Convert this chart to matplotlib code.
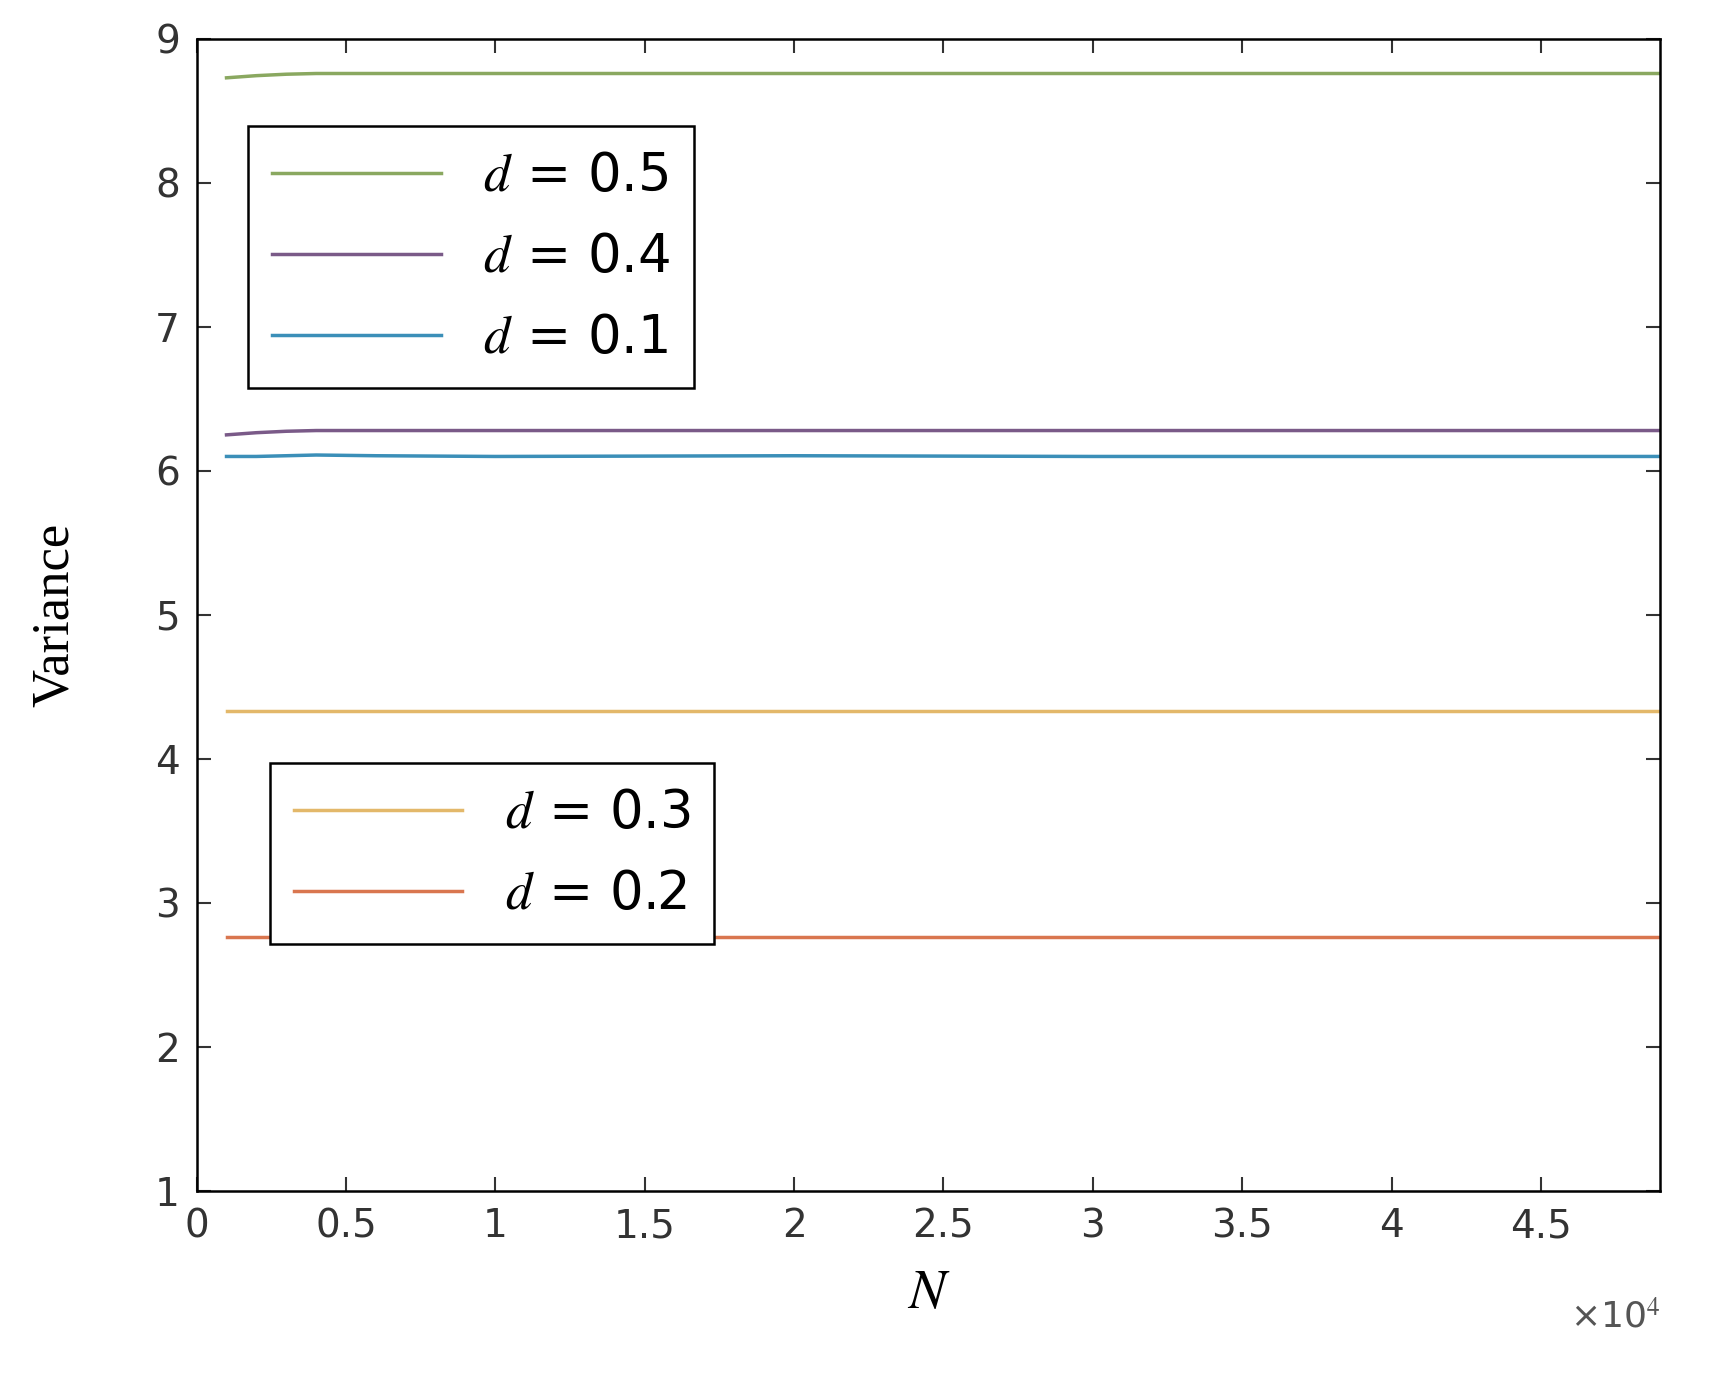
import numpy as np
import matplotlib
matplotlib.use("Agg")
import matplotlib.pyplot as plt

plt.rcParams["mathtext.fontset"] = "stix"

N = [1000, 2000, 3000, 4000, 6000, 10000, 20000, 30000, 40000, 49000]
var_05 = [8.73, 8.745, 8.755, 8.76, 8.76, 8.76, 8.76, 8.76, 8.76, 8.76]
var_04 = [6.25, 6.265, 6.275, 6.28, 6.28, 6.28, 6.28, 6.28, 6.28, 6.28]
var_01 = [6.10, 6.10, 6.105, 6.11, 6.105, 6.10, 6.105, 6.10, 6.10, 6.10]
var_03 = [4.33] * 10
var_02 = [2.76] * 10

c05 = "#8aa860"
c04 = "#7a5a88"
c01 = "#3b8fb8"
c03 = "#e3b86a"
c02 = "#d9764f"

fig = plt.figure(figsize=(17.10, 13.91), dpi=100)
ax = fig.add_axes([0.115, 0.144, 0.856, 0.828])
l5, = ax.plot(N, var_05, color=c05, lw=2.5)
l4, = ax.plot(N, var_04, color=c04, lw=2.5)
l1, = ax.plot(N, var_01, color=c01, lw=2.5)
l3, = ax.plot(N, var_03, color=c03, lw=2.5)
l2, = ax.plot(N, var_02, color=c02, lw=2.5)

ax.set_xlim(0, 49000)
ax.set_ylim(1, 9)
ax.set_xticks(np.arange(0, 49000, 5000))
ax.set_xticklabels(["0", "0.5", "1", "1.5", "2", "2.5", "3", "3.5", "4", "4.5"])
ax.tick_params(direction="in", length=10, width=1.5, labelsize=28, colors="#333333",
               top=True, right=True, pad=12)
for sp in ax.spines.values():
    sp.set_linewidth(1.8)
ax.text(1.0, -0.095, "×10$^4$", transform=ax.transAxes, ha="right", va="top",
        fontsize=26, color="#555555", family="DejaVu Sans")
ax.set_xlabel(r"$N$", fontsize=40, labelpad=15)
ax.set_ylabel("Variance", fontsize=38, family="Liberation Serif", labelpad=55)

kw = dict(fontsize=38, frameon=True, fancybox=False, edgecolor="black", framealpha=1,
          handlelength=3.2, handletextpad=0.8, labelspacing=0.55, borderpad=0.45,
          borderaxespad=0)
leg1 = ax.legend([l5, l4, l1], [r"$d$ = 0.5", r"$d$ = 0.4", r"$d$ = 0.1"],
                 loc="upper left", bbox_to_anchor=(0.035, 0.924), **kw)
leg1.get_frame().set_linewidth(1.8)
ax.add_artist(leg1)
leg2 = ax.legend([l3, l2], [r"$d$ = 0.3", r"$d$ = 0.2"],
                 loc="upper left", bbox_to_anchor=(0.05, 0.371), **kw)
leg2.get_frame().set_linewidth(1.8)

fig.savefig("out.png", dpi=100)
